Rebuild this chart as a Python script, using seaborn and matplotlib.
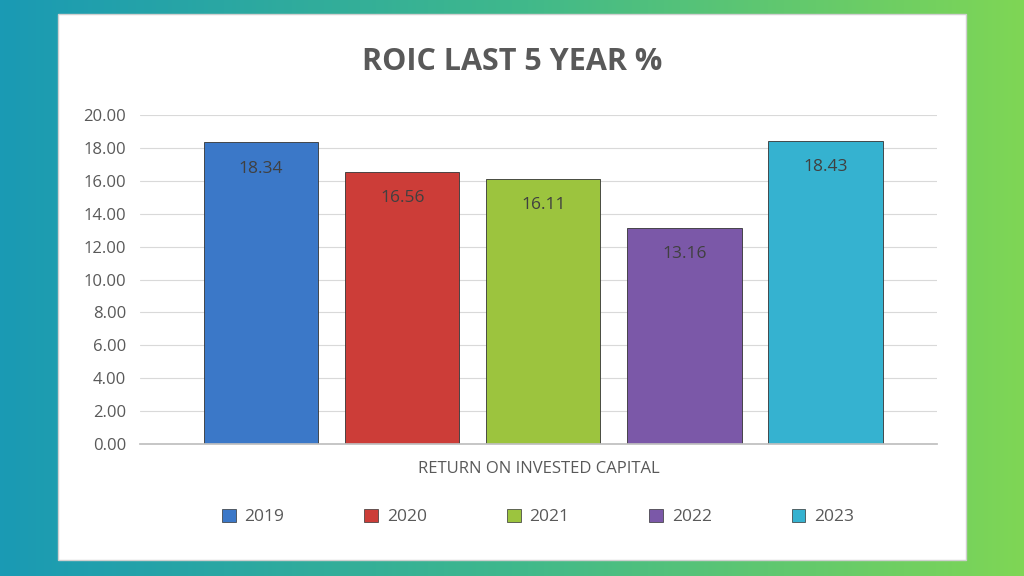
import numpy as np
import pandas as pd
import matplotlib
matplotlib.use("Agg")
import matplotlib.pyplot as plt
import seaborn as sns
from matplotlib.patches import Rectangle, Patch
from matplotlib.colors import LinearSegmentedColormap

years = ["2019", "2020", "2021", "2022", "2023"]
values = [18.34, 16.56, 16.11, 13.16, 18.43]
colors = ["#3b78c8", "#cc3d38", "#9cc43e", "#7b58a8", "#35b2d0"]

sns.set_theme(style="white")
plt.rcParams['font.family'] = ['Open Sans', 'DejaVu Sans']

fig = plt.figure(figsize=(10.24, 5.76), dpi=100)
bg = fig.add_axes([0, 0, 1, 1], zorder=-10)
grad = np.linspace(0, 1, 256)[None, :]
cmap = LinearSegmentedColormap.from_list("g", ["#1a9ab4", "#3fb88c", "#7fd655"])
bg.imshow(grad, aspect="auto", cmap=cmap, extent=[0, 1, 0, 1])
bg.add_patch(Rectangle((58/1024, 1-560/576), (966-58)/1024, (560-14)/576,
                       facecolor="white", edgecolor="#d0d0d0", transform=bg.transAxes))
bg.set_axis_off()

ax = fig.add_axes([140/1024, 1-444/576, 797/1024, 329/576])
df = pd.DataFrame({"year": years, "v": values})
sns.barplot(data=df, x="year", y="v", hue="year", palette=colors, width=0.81, saturation=1,
            dodge=False, legend=False, ax=ax, edgecolor="#333333", linewidth=0.6)
ax.set_xlim(-0.858, 4.79)
ax.set_ylim(0, 20)
ax.set_yticks(np.arange(0, 20.01, 2))
ax.set_yticklabels([f"{t:.2f}" for t in np.arange(0, 20.01, 2)], color="#595959", fontsize=12)
ax.set_xticks([])
ax.set_xlabel("RETURN ON INVESTED CAPITAL", color="#595959", fontsize=12, labelpad=12)
ax.set_ylabel("")
ax.yaxis.grid(True, color="#d9d9d9", linewidth=0.8)
ax.set_axisbelow(True)
for s in ["top", "right", "left"]:
    ax.spines[s].set_visible(False)
ax.spines["bottom"].set_color("#bfbfbf")
ax.tick_params(axis="y", length=0, pad=10)
for i, v in enumerate(values):
    ax.text(i, v - 1.6, f"{v:.2f}", ha="center", va="center", fontsize=12.5, color="#404040")

fig.text(512/1024, 1-62/576, "ROIC LAST 5 YEAR %", ha="center", va="center",
         fontsize=22, fontweight="bold", color="#595959")
handles = [Patch(facecolor=c, edgecolor="#333333", linewidth=0.5) for c in colors]
fig.legend(handles, years, loc="center", bbox_to_anchor=(538/1024, 1-517/576), ncol=5,
           frameon=False, fontsize=12.5, handlelength=0.8, handleheight=0.8,
           handletextpad=0.5, columnspacing=4.6, labelcolor="#595959")
fig.savefig("out.png", dpi=100)
